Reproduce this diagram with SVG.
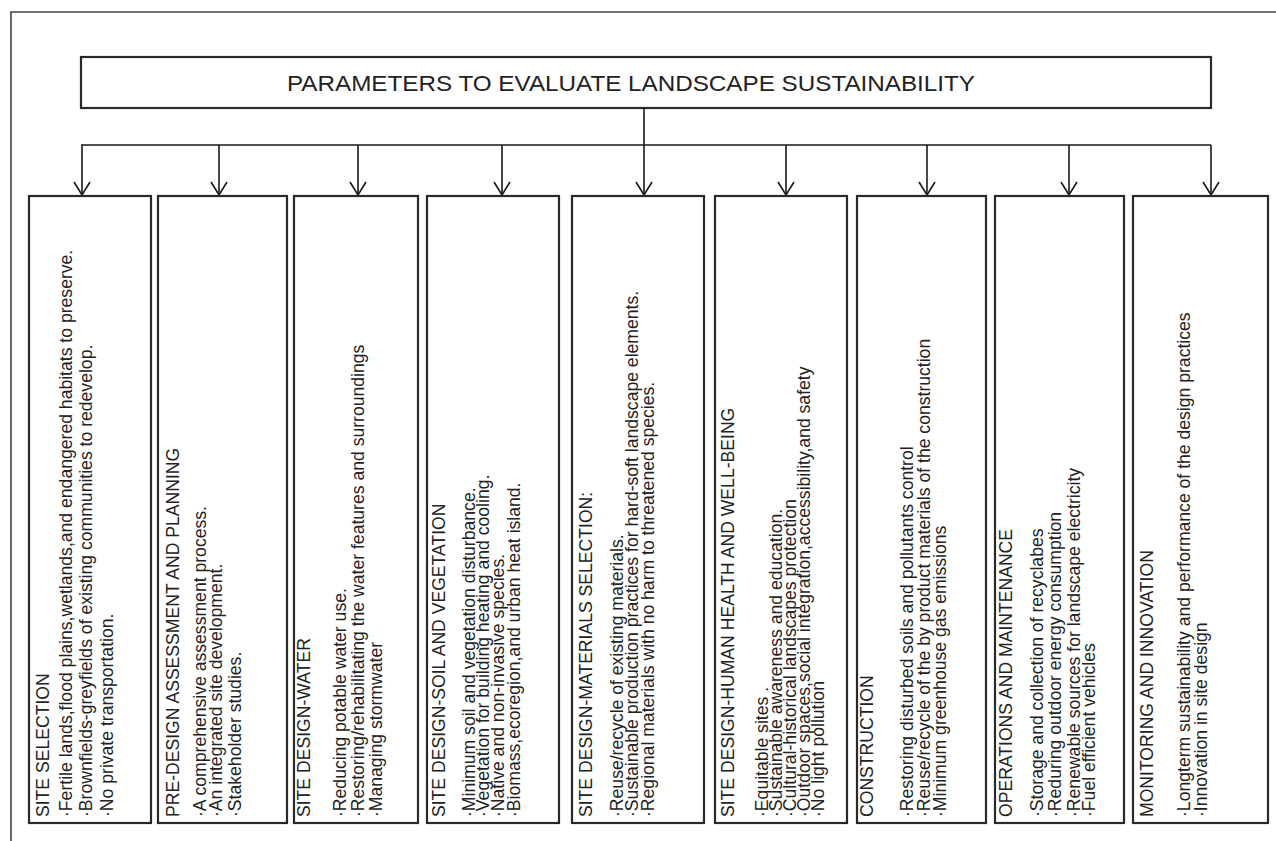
<svg xmlns="http://www.w3.org/2000/svg" width="1276" height="841" viewBox="0 0 1276 841">
<style>
.frame{fill:none;stroke:#444;stroke-width:1.6}
.box{fill:#fff;stroke:#2a2a2a;stroke-width:2.2}
.con{fill:none;stroke:#1a1a1a;stroke-width:1.6}
.t{font-family:"Liberation Sans",Arial,sans-serif;font-size:17.6px;fill:#222}
.title{font-family:"Liberation Sans",Arial,sans-serif;font-size:21.5px;fill:#222}
</style>
<defs>
<marker id="arr" viewBox="-15 -10 17 20" markerWidth="17" markerHeight="20" refX="0" refY="0" orient="auto" markerUnits="userSpaceOnUse">
<path d="M-13,-8 L0,0 L-13,8" fill="none" stroke="#1a1a1a" stroke-width="1.6"/>
</marker>
</defs>
<rect width="1276" height="841" fill="#fff"/>
<path class="frame" d="M11,841 V12 H1276"/>

<g id="title">
<rect class="box" x="81" y="57" width="1130" height="51"/>
<text class="title" x="287" y="91" textLength="688" lengthAdjust="spacingAndGlyphs">PARAMETERS TO EVALUATE LANDSCAPE SUSTAINABILITY</text>
</g>

<g id="connectors">
<path class="con" d="M644,108 V145 M81,145 H1211"/>
<g marker-end="url(#arr)">
<path class="con" d="M82,145 V195"/>
<path class="con" d="M219,145 V195"/>
<path class="con" d="M358,145 V195"/>
<path class="con" d="M502,145 V195"/>
<path class="con" d="M644,145 V195"/>
<path class="con" d="M786,145 V195"/>
<path class="con" d="M927,145 V195"/>
<path class="con" d="M1069,145 V195"/>
<path class="con" d="M1211,145 V195"/>
</g>
</g>

<g id="site-selection">
<rect class="box" x="29" y="196" width="122" height="627"/>
<text class="t" transform="translate(0,817) rotate(-90)">
<tspan x="0" y="49">SITE SELECTION</tspan>
<tspan x="0" y="72">·Fertile lands,flood plains,wetlands,and endangered habitats to preserve.</tspan>
<tspan x="0" y="92">·Brownfields-greyfields of existing communities to redevelop.</tspan>
<tspan x="0" y="113">·No private transportation.</tspan>
</text>
</g>

<g id="pre-design">
<rect class="box" x="158" y="196" width="129" height="627"/>
<text class="t" transform="translate(0,817) rotate(-90)">
<tspan x="0" y="179">PRE-DESIGN ASSESSMENT AND PLANNING</tspan>
<tspan x="0" y="206">·A comprehensive assessment process.</tspan>
<tspan x="0" y="222">·An integrated site development.</tspan>
<tspan x="0" y="241">·Stakeholder studies.</tspan>
</text>
</g>

<g id="water">
<rect class="box" x="294" y="196" width="124" height="627"/>
<text class="t" transform="translate(0,817) rotate(-90)">
<tspan x="0" y="310">SITE DESIGN-WATER</tspan>
<tspan x="0" y="346">·Reducing potable water use.</tspan>
<tspan x="0" y="364">·Restoring/rehabilitating the water features and surroundings</tspan>
<tspan x="0" y="382">·Managing stormwater</tspan>
</text>
</g>

<g id="soil-vegetation">
<rect class="box" x="427" y="196" width="132" height="627"/>
<text class="t" transform="translate(0,817) rotate(-90)">
<tspan x="0" y="445">SITE DESIGN-SOIL AND VEGETATION</tspan>
<tspan x="0" y="475">·Minimum soil and vegetation disturbance.</tspan>
<tspan x="0" y="489">·Vegetation for building heating and cooling.</tspan>
<tspan x="0" y="504">·Native and non-invasive species.</tspan>
<tspan x="0" y="520">·Biomass,ecoregion,and urban heat island.</tspan>
</text>
</g>

<g id="materials">
<rect class="box" x="572" y="196" width="132" height="627"/>
<text class="t" transform="translate(0,817) rotate(-90)">
<tspan x="0" y="592">SITE DESIGN-MATERIALS SELECTION:</tspan>
<tspan x="0" y="623">·Reuse/recycle of existing materials.</tspan>
<tspan x="0" y="638">·Sustainable production practices for hard-soft landscape elements.</tspan>
<tspan x="0" y="654">·Regional materials with no harm to threatened species.</tspan>
</text>
</g>

<g id="human-health">
<rect class="box" x="715" y="196" width="132" height="627"/>
<text class="t" transform="translate(0,817) rotate(-90)">
<tspan x="0" y="734">SITE DESIGN-HUMAN HEALTH AND WELL-BEING</tspan>
<tspan x="0" y="768">·Equitable sites .</tspan>
<tspan x="0" y="782">·Sustainable awareness and education.</tspan>
<tspan x="0" y="796">·Cultural-historical landscapes protection</tspan>
<tspan x="0" y="810">·Outdoor spaces,social integration,accessibility,and safety</tspan>
<tspan x="0" y="824">·No light pollution</tspan>
</text>
</g>

<g id="construction">
<rect class="box" x="857" y="196" width="129" height="627"/>
<text class="t" transform="translate(0,817) rotate(-90)">
<tspan x="0" y="873">CONSTRUCTION</tspan>
<tspan x="0" y="913">·Restoring disturbed soils and pollutants control</tspan>
<tspan x="0" y="930">·Reuse/recycle of the by product materials of the construction</tspan>
<tspan x="0" y="946">·Minimum greenhouse gas emissions</tspan>
</text>
</g>

<g id="operations">
<rect class="box" x="995" y="196" width="129" height="627"/>
<text class="t" transform="translate(0,817) rotate(-90)">
<tspan x="0" y="1012">OPERATIONS AND MAINTENANCE</tspan>
<tspan x="0" y="1043">·Storage and collection of recyclabes</tspan>
<tspan x="0" y="1061">·Reduring outdoor energy consumption</tspan>
<tspan x="0" y="1080">·Renewable sources for landscape electricity</tspan>
<tspan x="0" y="1095">·Fuel efficient vehicles</tspan>
</text>
</g>

<g id="monitoring">
<rect class="box" x="1133" y="196" width="135" height="627"/>
<text class="t" transform="translate(0,817) rotate(-90)">
<tspan x="0" y="1153">MONITORING AND INNOVATION</tspan>
<tspan x="0" y="1190">·Longterm sustainability and performance of the design practices</tspan>
<tspan x="0" y="1207">·Innovation in site design</tspan>
</text>
</g>
</svg>
